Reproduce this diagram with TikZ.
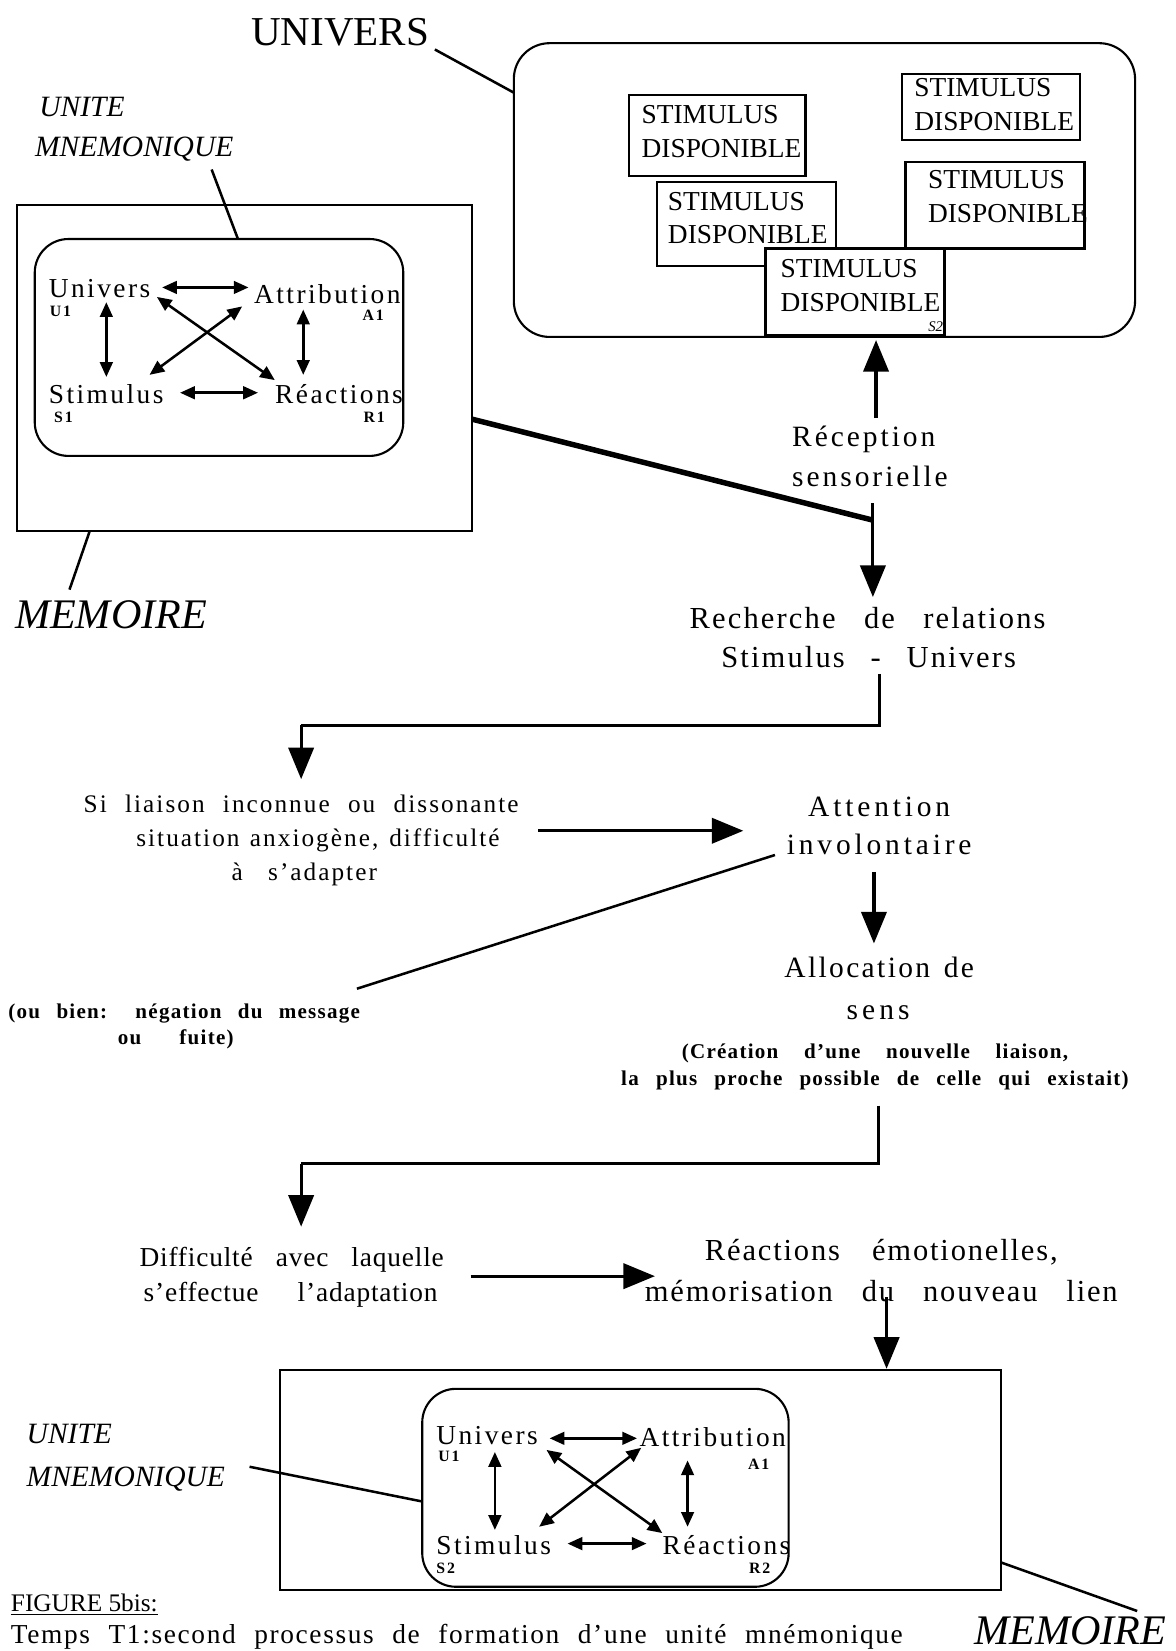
\documentclass[tikz,border=0pt]{standalone}
\usepackage{fontspec}
\setmainfont{Liberation Serif}
\usetikzlibrary{arrows.meta,fit}
\newcommand{\spreadto}[2]{\makebox[#1][s]{#2}}
\tikzset{
  frame/.style={draw, line width=1pt, inner sep=0pt, fill=white},
  rframe/.style={frame, rounded corners=16pt},
  flow/.style={line width=1.5pt},
  bigtip/.style={flow, -{Triangle[length=15pt,width=12pt]}},
  dbl/.style={line width=1.2pt, {Triangle[length=7pt,width=6pt]}-{Triangle[length=7pt,width=6pt]}},
  leader/.style={line width=1.2pt},
  thickline/.style={line width=2.6pt},
  inner/.style={anchor=base west, inner sep=0pt, font=\fontsize{13pt}{15pt}\selectfont\addfontfeature{LetterSpace=9}},
  sublab/.style={anchor=base west, inner sep=0pt, font=\fontsize{7.5pt}{9pt}\selectfont\bfseries\addfontfeature{LetterSpace=12}},
  stim/.style={anchor=west, inner sep=0pt, align=left, font=\fontsize{13pt}{16pt}\selectfont},
  title/.style={anchor=base, inner sep=0pt, font=\fontsize{19.5pt}{22pt}\selectfont},
  ital/.style={anchor=base west, inner sep=0pt, font=\fontsize{14pt}{16pt}\selectfont\itshape},
  bigital/.style={anchor=base west, inner sep=0pt, font=\fontsize{20pt}{22pt}\selectfont\itshape},
  flowtxt/.style={anchor=base, inner sep=0pt, font=\fontsize{14.5pt}{16pt}\selectfont\addfontfeature{LetterSpace=7}},
  midtxt/.style={anchor=base, inner sep=0pt, font=\fontsize{12pt}{14pt}\selectfont\addfontfeature{LetterSpace=8}},
  difftxt/.style={anchor=base, inner sep=0pt, font=\fontsize{13pt}{15pt}\selectfont\addfontfeature{LetterSpace=3}},
  smalltxt/.style={anchor=base, inner sep=0pt, font=\fontsize{10pt}{12pt}\selectfont\bfseries\addfontfeature{LetterSpace=6}},
  captxt/.style={anchor=base west, inner sep=0pt, font=\fontsize{13pt}{15pt}\selectfont\addfontfeature{LetterSpace=6}},
}
\begin{document}
\begin{tikzpicture}[x=0.5pt,y=-0.5pt]
\useasboundingbox (0,0) rectangle (1116,1568);

% ---------------- UNIVERS -----------------
\node[title] (tUnivers) at (323,43) {UNIVERS};
\node[rframe, rounded corners=17pt, fit={(488,41) (1078,320)}] (univ) {};
\coordinate (uA) at (413,47);
\coordinate (uB) at (488,88);
\draw[leader] (uA) -- (uB);

\node[frame, fit={(597,90) (765,167)}] (sb1) {};
\node[stim] (st1) at (609,125) {STIMULUS\\DISPONIBLE};
\node[frame, fit={(857,70) (1026,133)}] (sb2) {};
\node[stim] (st2) at (868,99) {STIMULUS\\DISPONIBLE};
\node[frame, fit={(624,173) (794,253)}] (sb3) {};
\node[stim] (st3) at (634,207) {STIMULUS\\DISPONIBLE};
\node[frame, fit={(860,154) (1030,236)}] (sb4) {};
\node[stim] (st4) at (881,187) {STIMULUS\\DISPONIBLE};
\node[frame, fit={(727,236) (897,318)}] (sb5) {};
\node[stim] (st5) at (741,271) {STIMULUS\\DISPONIBLE};
\node[anchor=base east, inner sep=0pt, font=\fontsize{7pt}{8pt}\selectfont\itshape] (s2lab) at (896,315) {S2};

% ---------------- top-left memory -----------------
\node[ital] (tUnite1) at (37,111) {UNITE};
\node[ital] (tMnem1) at (33,149) {MNEMONIQUE};
\node[frame, fit={(16,195) (448,504)}] (mem1) {};
\node[rframe, fit={(33,227) (383,433)}] (unit1) {};
\coordinate (mA) at (201,161);
\coordinate (mB) at (226,227);
\draw[leader] (mA) -- (mB);
\node[bigital] (tMem1) at (14,597) {MEMOIRE};
\coordinate (mC) at (85,505);
\coordinate (mD) at (66,560);
\draw[leader] (mC) -- (mD);

\node[inner] (u1) at (46,283) {Univers};
\node[sublab] (u1s) at (47,301) {U1};
\node[inner] (a1) at (241,288) {Attribution};
\node[sublab] (a1s) at (344,304) {A1};
\node[inner] (s1) at (46,383) {Stimulus};
\node[sublab] (s1s) at (51,401) {S1};
\node[inner] (r1) at (261,383) {Réactions};
\node[sublab] (r1s) at (345,401) {R1};

\coordinate (p1) at (154,273); \coordinate (p2) at (236,273);
\coordinate (p3) at (101,287); \coordinate (p4) at (101,358);
\coordinate (p5) at (288,294); \coordinate (p6) at (288,356);
\coordinate (p7) at (171,373); \coordinate (p8) at (245,373);
\coordinate (p9) at (149,282); \coordinate (p10) at (261,361);
\coordinate (p11) at (230,291); \coordinate (p12) at (142,356);
\draw[dbl] (p1) -- (p2);
\draw[dbl] (p3) -- (p4);
\draw[dbl] (p5) -- (p6);
\draw[dbl] (p7) -- (p8);
\draw[dbl] (p9) -- (p10);
\draw[dbl] (p11) -- (p12);

% ---------------- flow -----------------
\node[flowtxt, anchor=base west, font=\fontsize{14pt}{16pt}\selectfont\addfontfeature{LetterSpace=10}] (recep1) at (752,424) {Réception};
\node[flowtxt, anchor=base west, font=\fontsize{14pt}{16pt}\selectfont\addfontfeature{LetterSpace=10}] (recep2) at (752,462) {sensorielle};
\coordinate (r_up0) at (832,397);
\coordinate (r_up1) at (832,323);
\draw[bigtip] (r_up0) -- (r_up1);
\coordinate (r_dn0) at (829,478);
\coordinate (r_dn1) at (829,567);
\draw[bigtip] (r_dn0) -- (r_dn1);
\coordinate (th0) at (448,398);
\coordinate (th1) at (829,494);
\draw[thickline] (th0) -- (th1);

\node[flowtxt] (rech1) at (824,597) {\spreadto{169pt}{Recherche de relations}};
\node[flowtxt] (rech2) at (825,634) {\spreadto{140pt}{Stimulus - Univers}};
\coordinate (f1a) at (835,640);
\coordinate (f1b) at (835,689);
\coordinate (f1c) at (286,689);
\coordinate (f1d) at (286,740);
\draw[flow] (f1a) -- (f1b) -- (f1c);
\draw[bigtip] (f1c) -- (f1d);

\node[midtxt] (si1) at (286,772) {\spreadto{206.5pt}{Si liaison inconnue ou dissonante}};
\node[midtxt] (si2) at (302,804) {\spreadto{172.5pt}{situation anxiogène, difficulté}};
\node[midtxt] (si3) at (289,836) {\spreadto{69pt}{à s'adapter}};
\coordinate (h1a) at (511,789);
\coordinate (h1b) at (706,789);
\draw[bigtip] (h1a) -- (h1b);

\node[flowtxt, font=\fontsize{14pt}{16pt}\selectfont\addfontfeature{LetterSpace=13}] (att1) at (835,775) {Attention};
\node[flowtxt, font=\fontsize{14pt}{16pt}\selectfont\addfontfeature{LetterSpace=13}] (att2) at (835,812) {involontaire};
\coordinate (ob0) at (736,812);
\coordinate (ob1) at (339,939);
\draw[leader] (ob0) -- (ob1);
\node[smalltxt] (ou1) at (175,967) {\spreadto{167pt}{(ou bien: négation du message}};
\node[smalltxt] (ou2) at (167,992) {\spreadto{55pt}{ou fuite)}};
\coordinate (a_dn0) at (830,828);
\coordinate (a_dn1) at (830,896);
\draw[bigtip] (a_dn0) -- (a_dn1);

\node[flowtxt, font=\fontsize{14pt}{16pt}\selectfont\addfontfeature{LetterSpace=8}] (al1) at (835,928) {\spreadto{90pt}{Allocation de}};
\node[flowtxt, font=\fontsize{14pt}{16pt}\selectfont\addfontfeature{LetterSpace=14}] (al2) at (834,968) {sens};
\node[smalltxt] (cr1) at (831,1005) {\spreadto{183.5pt}{(Création d'une nouvelle liaison,}};
\node[smalltxt] (cr2) at (831,1031) {\spreadto{241pt}{la plus proche possible de celle qui existait)}};
\coordinate (f2a) at (834,1050);
\coordinate (f2b) at (834,1105);
\coordinate (f2c) at (286,1105);
\coordinate (f2d) at (286,1165);
\draw[flow] (f2a) -- (f2b) -- (f2c);
\draw[bigtip] (f2c) -- (f2d);

\node[difftxt] (di1) at (277,1203) {\spreadto{144.5pt}{Difficulté avec laquelle}};
\node[difftxt] (di2) at (276,1236) {\spreadto{139.5pt}{s'effectue l'adaptation}};
\coordinate (h2a) at (447,1212);
\coordinate (h2b) at (622,1212);
\draw[bigtip] (h2a) -- (h2b);

\node[flowtxt, font=\fontsize{14.5pt}{16pt}\selectfont\addfontfeature{LetterSpace=6}] (re1) at (837,1197) {\spreadto{167.5pt}{Réactions émotionelles,}};
\node[flowtxt, font=\fontsize{14.5pt}{16pt}\selectfont\addfontfeature{LetterSpace=6}] (re2) at (837,1236) {\spreadto{224.5pt}{mémorisation du nouveau lien}};
\coordinate (e_dn0) at (842,1232);
\coordinate (e_dn1) at (842,1300);
\draw[bigtip] (e_dn0) -- (e_dn1);

% ---------------- bottom memory -----------------
\node[frame, fit={(266,1301) (951,1510)}] (mem2) {};
\node[rframe, fit={(401,1319) (749,1507)}] (unit2) {};
\node[ital] (tUnite2) at (25,1371) {UNITE};
\node[ital] (tMnem2) at (25,1412) {MNEMONIQUE};
\coordinate (nA) at (237,1393);
\coordinate (nB) at (401,1426);
\draw[leader] (nA) -- (nB);

\node[inner] (u2) at (414,1372) {Univers};
\node[sublab] (u2s) at (416,1388) {U1};
\node[inner] (a2) at (607,1374) {Attribution};
\node[sublab] (a2s) at (710,1396) {A1};
\node[inner] (s2) at (414,1476) {Stimulus};
\node[sublab] (s2s) at (414,1494) {S2};
\node[inner] (r2) at (629,1476) {Réactions};
\node[sublab] (r2s) at (711,1494) {R2};

\coordinate (q1) at (522,1366); \coordinate (q2) at (605,1366);
\coordinate (q3) at (470,1379); \coordinate (q4) at (470,1453);
\coordinate (q5) at (653,1387); \coordinate (q6) at (653,1450);
\coordinate (q7) at (539,1466); \coordinate (q8) at (614,1466);
\coordinate (q9) at (519,1377); \coordinate (q10) at (629,1456);
\coordinate (q11) at (609,1375); \coordinate (q12) at (512,1450);
\draw[dbl] (q1) -- (q2);
\draw[dbl] (q3) -- (q4);
\draw[dbl] (q5) -- (q6);
\draw[dbl] (q7) -- (q8);
\draw[dbl] (q9) -- (q10);
\draw[dbl] (q11) -- (q12);

\coordinate (mE) at (951,1484);
\coordinate (mF) at (1080,1530);
\draw[leader] (mE) -- (mF);
\node[bigital] (tMem2) at (925,1562) {MEMOIRE};

% ---------------- caption -----------------
\node[captxt, font=\fontsize{12pt}{14pt}\selectfont] (cap1) at (10,1530) {\underline{FIGURE 5bis:}};
\node[captxt] (cap2) at (10,1561) {\underline{\spreadto{423.5pt}{Temps T1:second processus de formation d'une unité mnémonique}}};
\end{tikzpicture}
\end{document}
